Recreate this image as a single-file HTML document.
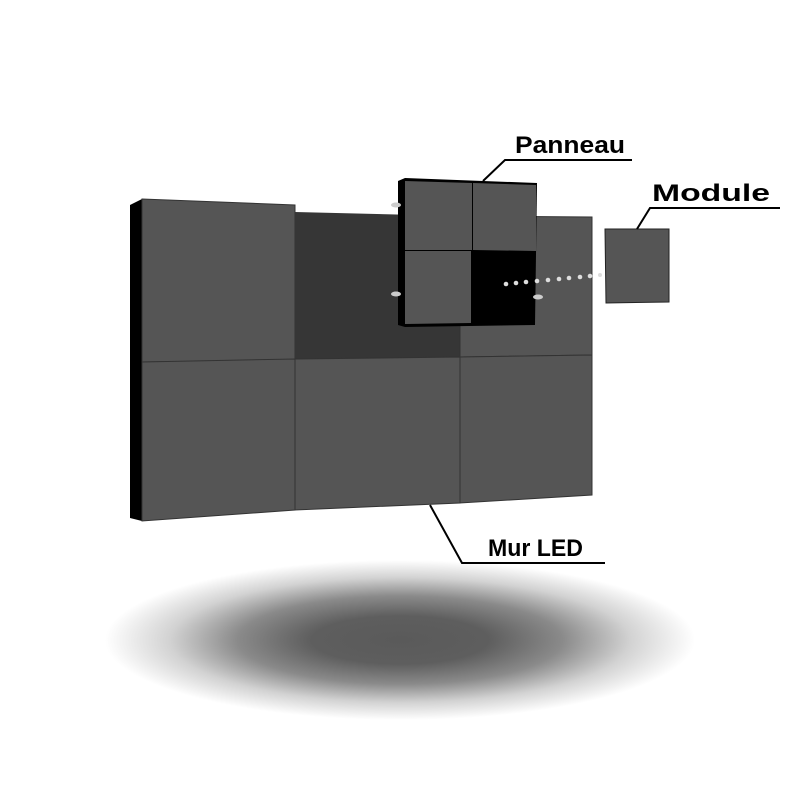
<!DOCTYPE html>
<html><head><meta charset="utf-8"><style>
html,body{margin:0;padding:0;background:#fff;width:800px;height:800px;overflow:hidden}
svg text{font-family:"Liberation Sans",sans-serif;font-weight:bold;fill:#000}
</style></head><body>
<svg width="800" height="800" viewBox="0 0 800 800" xmlns="http://www.w3.org/2000/svg">
<defs>
<radialGradient id="sh" cx="0.5" cy="0.5" r="0.5">
<stop offset="0" stop-color="#5a5a5a"/>
<stop offset="0.3" stop-color="#5e5e5e"/>
<stop offset="0.55" stop-color="#8a8a8a"/>
<stop offset="0.78" stop-color="#d2d2d2"/>
<stop offset="1" stop-color="#fff"/>
</radialGradient>
</defs>
<ellipse cx="400" cy="640" rx="295" ry="80" fill="url(#sh)"/>
<!-- wall -->
<polygon points="130,205 142,199 142,521 130,518" fill="#000"/>
<polygon points="142,199 295,205 295,360 142,362" fill="#555" stroke="#333" stroke-width="1"/>
<polygon points="295,212 460,216 460,357 295,359" fill="#363636"/>
<polygon points="460,216 592,217 592,355 460,357" fill="#555" stroke="#333" stroke-width="1"/>
<polygon points="142,362 295,359 295,510 142,521" fill="#555" stroke="#333" stroke-width="1"/>
<polygon points="295,359 460,357 460,503 295,510" fill="#555" stroke="#333" stroke-width="1"/>
<polygon points="460,357 592,355 592,495 460,503" fill="#555" stroke="#333" stroke-width="1"/>
<!-- panneau -->
<polygon points="398,181 405,178 537,183 535,325 405,327 398,325" fill="#000"/>
<polygon points="405,181 472,183 472,250 405,250" fill="#555"/>
<polygon points="473,183 536,185 536,251 473,250" fill="#555"/>
<polygon points="405,251 471,251 471,323 405,324" fill="#555"/>
<ellipse cx="396" cy="205" rx="5" ry="2.5" fill="#ccc"/>
<ellipse cx="396" cy="294" rx="5" ry="2.5" fill="#ccc"/>
<ellipse cx="538" cy="297" rx="5" ry="2.5" fill="#ccc"/>
<!-- dots -->
<g fill="#ddd">
<circle cx="506" cy="284" r="2.3"/><circle cx="516" cy="283" r="2.3"/><circle cx="526" cy="282" r="2.3"/>
<circle cx="537" cy="281" r="2.3"/><circle cx="548" cy="280" r="2.3"/><circle cx="559" cy="279" r="2.3"/>
<circle cx="569" cy="278" r="2.3"/><circle cx="580" cy="277" r="2.3"/><circle cx="590" cy="276" r="2.3"/><circle cx="600" cy="275" r="2"/>
</g>
<!-- module -->
<polygon points="605,229 669,229 669,302 606,303" fill="#555" stroke="#222" stroke-width="1"/>
<!-- leaders -->
<polyline points="483,181 505,160 632,160" fill="none" stroke="#000" stroke-width="2"/>
<polyline points="637,229 650,208 780,208" fill="none" stroke="#000" stroke-width="2"/>
<polyline points="430,505 462,563 605,563" fill="none" stroke="#000" stroke-width="2"/>
<text x="515" y="153" font-size="24" textLength="110" lengthAdjust="spacingAndGlyphs">Panneau</text>
<text x="652" y="201" font-size="24" textLength="118" lengthAdjust="spacingAndGlyphs">Module</text>
<text x="488" y="556" font-size="24" textLength="95" lengthAdjust="spacingAndGlyphs">Mur LED</text>
</svg>
</body></html>
